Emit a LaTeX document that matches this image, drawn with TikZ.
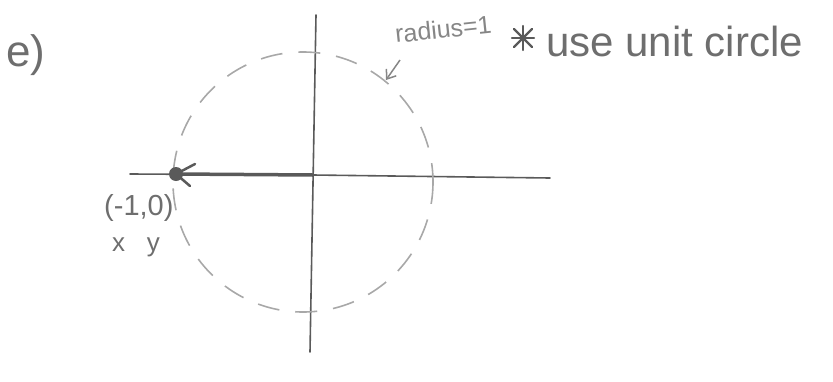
\documentclass[tikz,border=0pt]{standalone}
\usepackage{fontspec}
\setmainfont{Liberation Sans}
\usetikzlibrary{arrows.meta,calc}
\definecolor{pencil}{HTML}{5A5A5A}
\definecolor{pencilL}{HTML}{A8A8A8}
\definecolor{pencilT}{HTML}{6E6E6E}
\tikzset{
  axis/.style={draw=pencil, line width=1.6pt, line cap=round},
  hand/.style={text=pencilT, inner sep=0pt, anchor=base west},
  dashcircle/.style={draw=pencilL, line width=1.6pt, dash pattern=on 22pt off 16pt},
  starline/.style={draw=pencil, line width=2.2pt, line cap=round}
}
\begin{document}
\begin{tikzpicture}[x=1pt,y=-1pt]
\useasboundingbox (0,0) rectangle (833,381);
% axes
\coordinate (O) at (313,175);
\coordinate (ytop) at (316,15);
\coordinate (ybot) at (310,352);
\coordinate (xleft) at (130,174);
\coordinate (xright) at (550,178);
\draw[axis] (ytop) -- (ybot);
\draw[axis] (O) -- (xright);
\draw[axis] (xleft) -- (O);
% dashed unit circle
\draw[dashcircle] (303,182) circle[x radius=130, y radius=130];
% point (-1,0)
\coordinate (P) at (176,174);
\draw[draw=pencil, line width=3.5pt] (P) -- (O);
\fill[pencil] (P) circle[radius=7];
\draw[pencil, line width=2.5pt, line cap=round] (195,164) -- (P) -- (190,186);
% labels
\node[hand, font=\fontsize{44}{44}\selectfont] (e) at (6,66) {e)};
\node[hand, font=\fontsize{29}{29}\selectfont] (pt) at (104,215) {(-1,0)};
\node[hand, font=\fontsize{26}{26}\selectfont] (xy) at (112,251) {x\ \ \ y};
\node[hand, font=\fontsize{25}{25}\selectfont, rotate=6, text=pencilL!80!black] (rad) at (396,43) {radius=1};
\node[hand, font=\fontsize{42}{42}\selectfont] (use) at (546,56) {use unit circle};
% asterisk
\coordinate (star) at (523,38);
\draw[starline] ($(star)+(-11,0)$) -- ($(star)+(11,0)$);
\draw[starline] ($(star)+(0,-12)$) -- ($(star)+(0,12)$);
\draw[starline] ($(star)+(-9,-9)$) -- ($(star)+(9,9)$);
\draw[starline] ($(star)+(-9,9)$) -- ($(star)+(9,-9)$);
% arrow from radius label to circle
\coordinate (aS) at (400,60);
\coordinate (aE) at (386,80);
\draw[pencilL!80!black, line width=1.5pt, -{Straight Barb[length=8pt,width=12pt]}] (aS) -- (aE);
\end{tikzpicture}
\end{document}
